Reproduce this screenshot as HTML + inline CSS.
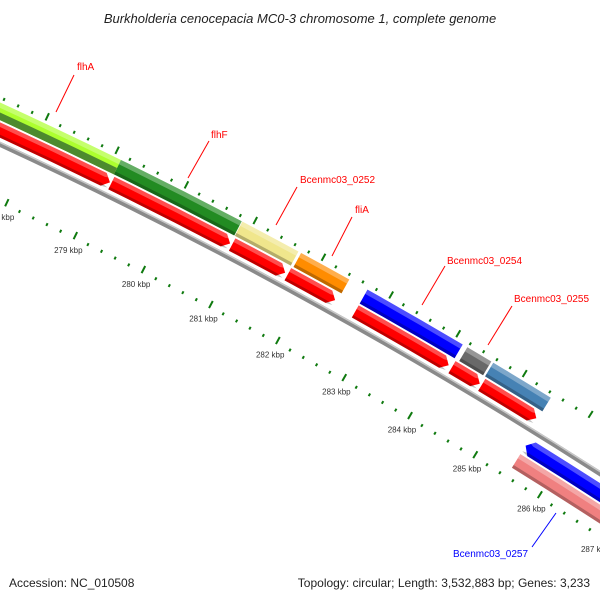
<!DOCTYPE html>
<html><head><meta charset="utf-8"><style>
body{margin:0;background:#fff;}
svg{display:block;font-family:"Liberation Sans",sans-serif;}
</style></head><body>
<svg id="map" width="600" height="600" viewBox="0 0 600 600">
<rect width="600" height="600" fill="#fff"/>
<text x="300" y="23" text-anchor="middle" font-size="13" font-style="italic" fill="#222">Burkholderia cenocepacia MC0-3 chromosome 1, complete genome</text>
<g id="tracks"></g>
<g id="labels"></g>
<text x="9" y="587" font-size="12" fill="#222">Accession: NC_010508</text>
<text x="590" y="587" text-anchor="end" font-size="12" fill="#222">Topology: circular; Length: 3,532,883 bp; Genes: 3,233</text>
</svg>
<script>
// data (positions in kbp)
const fwdNames = ["flhA","flhF","Bcenmc03_0252","fliA","Bcenmc03_0254","Bcenmc03_0254b","Bcenmc03_0255"];
const fwdStarts = [277.0,279.1,280.86,281.72,282.70,284.19,284.58];
const fwdEnds   = [279.1,280.85,281.68,282.43,284.12,284.55,285.45];
const fwdColors = ["#adff2f","#228b22","#f0e68c","#ff8c00","#0000ff","#696969","#4682b4"];
const redStarts = [277.0,279.12,280.88,281.70,282.70,284.15,284.60];
const redEnds   = [279.10,280.85,281.66,282.40,284.10,284.57,285.43];
const innerStarts = [285.50,285.50];
const innerEnds = [288.5,288.5];
const innerColors = ["#0000ff","#f08080"];
const tickKbp = [277,278,279,280,281,282,283,284,285,286,287,288];
const tickLabels = ["277 kbp","278 kbp","279 kbp","280 kbp","281 kbp","282 kbp","283 kbp","284 kbp","285 kbp","286 kbp","287 kbp","288 kbp"];
const labelNames = ["flhA","flhF","Bcenmc03_0252","fliA","Bcenmc03_0254","Bcenmc03_0255","Bcenmc03_0257"];
const labelKbp = [278.6,280.3,281.25,282.05,283.45,284.9,286.3];

const NS="http://www.w3.org/2000/svg";
const CX=-2100, CY=4682;
function ang(p){return (26.07+(p-279)*0.88)*Math.PI/180;}
function pt(p,r){const a=ang(p);return [CX+r*Math.sin(a), CY-r*Math.cos(a)];}
function f(v){return v[0].toFixed(2)+","+v[1].toFixed(2);}
function band(p1,p2,r1,r2,arrow){
  // arrow: 0 none, 1 tip at end, -1 tip at start
  const head=7/ (5000*0.88*Math.PI/180);
  let d="";
  const rm=(r1+r2)/2;
  if(arrow===1){
    const pe=p2-head;
    d="M"+f(pt(p1,r2))+" A"+r2+","+r2+" 0 0 1 "+f(pt(pe,r2))+" L"+f(pt(p2,rm))+" L"+f(pt(pe,r1))+" A"+r1+","+r1+" 0 0 0 "+f(pt(p1,r1))+"Z";
  } else if(arrow===-1){
    const ps=p1+head;
    d="M"+f(pt(p1,rm))+" L"+f(pt(ps,r2))+" A"+r2+","+r2+" 0 0 1 "+f(pt(p2,r2))+" L"+f(pt(p2,r1))+" A"+r1+","+r1+" 0 0 0 "+f(pt(ps,r1))+"Z";
  } else {
    d="M"+f(pt(p1,r2))+" A"+r2+","+r2+" 0 0 1 "+f(pt(p2,r2))+" L"+f(pt(p2,r1))+" A"+r1+","+r1+" 0 0 0 "+f(pt(p1,r1))+"Z";
  }
  const e=document.createElementNS(NS,"path");
  e.setAttribute("d",d);
  return e;
}
const T=document.getElementById("tracks");
function feat(p1,p2,r1,r2,arrow,color,name){
  const g=document.createElementNS(NS,"g");
  
  
  const b=band(p1,p2,r1,r2,arrow); b.setAttribute("fill",color); g.appendChild(b);
  const w=r2-r1;
  const hi=band(p1,p2,r2-w*0.3,r2,arrow); hi.setAttribute("fill","#fff"); hi.setAttribute("fill-opacity","0.3"); g.appendChild(hi);
  const lo=band(p1,p2,r1,r1+w*0.2,arrow); lo.setAttribute("fill","#000"); lo.setAttribute("fill-opacity","0.25"); g.appendChild(lo);
  T.appendChild(g);
}
// backbone
{
  const g=band(276,289,4997.5,5002.5,0); g.setAttribute("fill","#8a8a8a");
  
  
  T.appendChild(g);
  const h=band(276,289,5001,5002.5,0); h.setAttribute("fill","#c8c8c8");
  
  
  T.appendChild(h);
}
// red track
for(let i=0;i<redStarts.length;i++){feat(redStarts[i],redEnds[i],5006,5020,1,"#ff0000","cds-arrow-"+i);}
// forward named features
for(let i=0;i<fwdStarts.length;i++){
  feat(fwdStarts[i],fwdEnds[i],5022,5038,0,fwdColors[i],"gene-"+fwdNames[i].toLowerCase());
}
// darker lower part under flhA
{const e=band(277,279.1,5022,5029,0); e.setAttribute("fill","#4d8a2e");
 
 
 T.appendChild(e);}
// inner features
feat(innerStarts[0],innerEnds[0],4976,4992,-1,innerColors[0],"gene-bcenmc03-0257");
feat(innerStarts[1],innerEnds[1],4958,4974,0,innerColors[1],"pink-feature");
// ticks
for(let k=0;k<tickKbp.length;k++){
  for(let s=0;s<5;s++){
    const p=tickKbp[k]+s*0.2;
    const major=s===0;
    [[5041,major?5049:5044],[4946,major?4954:4949]].forEach((rr,ix)=>{
      const a=pt(p,rr[0]), b=pt(p,rr[1]);
      const l=document.createElementNS(NS,"line");
      l.setAttribute("x1",a[0]);l.setAttribute("y1",a[1]);l.setAttribute("x2",b[0]);l.setAttribute("y2",b[1]);
      l.setAttribute("stroke","#0f7a0f");l.setAttribute("stroke-width",major?2:2);
      
      
      T.appendChild(l);
    });
  }
  const c=pt(tickKbp[k],4934);
  const t=document.createElementNS(NS,"text");
  t.setAttribute("x",c[0]);t.setAttribute("y",c[1]+3);t.setAttribute("text-anchor","middle");
  t.setAttribute("font-size","8");t.setAttribute("fill","#333");
  t.textContent=tickLabels[k];
  
  
  T.appendChild(t);
}
// labels (text positions)
const L=document.getElementById("labels");
const lab=[
 {x:77,y:70,lx1:56,ly1:112,lx2:74,ly2:75,c:"#ff0000"},
 {x:211,y:138,lx1:188,ly1:178,lx2:209,ly2:141,c:"#ff0000"},
 {x:300,y:183,lx1:276,ly1:225,lx2:297,ly2:187,c:"#ff0000"},
 {x:355,y:213,lx1:332,ly1:256,lx2:352,ly2:217,c:"#ff0000"},
 {x:447,y:264,lx1:422,ly1:305,lx2:445,ly2:266,c:"#ff0000"},
 {x:514,y:302,lx1:488,ly1:345,lx2:512,ly2:306,c:"#ff0000"},
 {x:453,y:557,lx1:532,ly1:547,lx2:556,ly2:513,c:"#0000ff"}
];
lab.forEach((o,i)=>{
  const l=document.createElementNS(NS,"line");
  l.setAttribute("x1",o.lx1);l.setAttribute("y1",o.ly1);l.setAttribute("x2",o.lx2);l.setAttribute("y2",o.ly2);
  l.setAttribute("stroke",o.c);l.setAttribute("stroke-width","1");
  
  
  L.appendChild(l);
  const t=document.createElementNS(NS,"text");
  t.setAttribute("x",o.x);t.setAttribute("y",o.y);t.setAttribute("font-size","10");t.setAttribute("fill",o.c);
  t.textContent=labelNames[i];
  
  
  L.appendChild(t);
});
</script>
</body></html>
